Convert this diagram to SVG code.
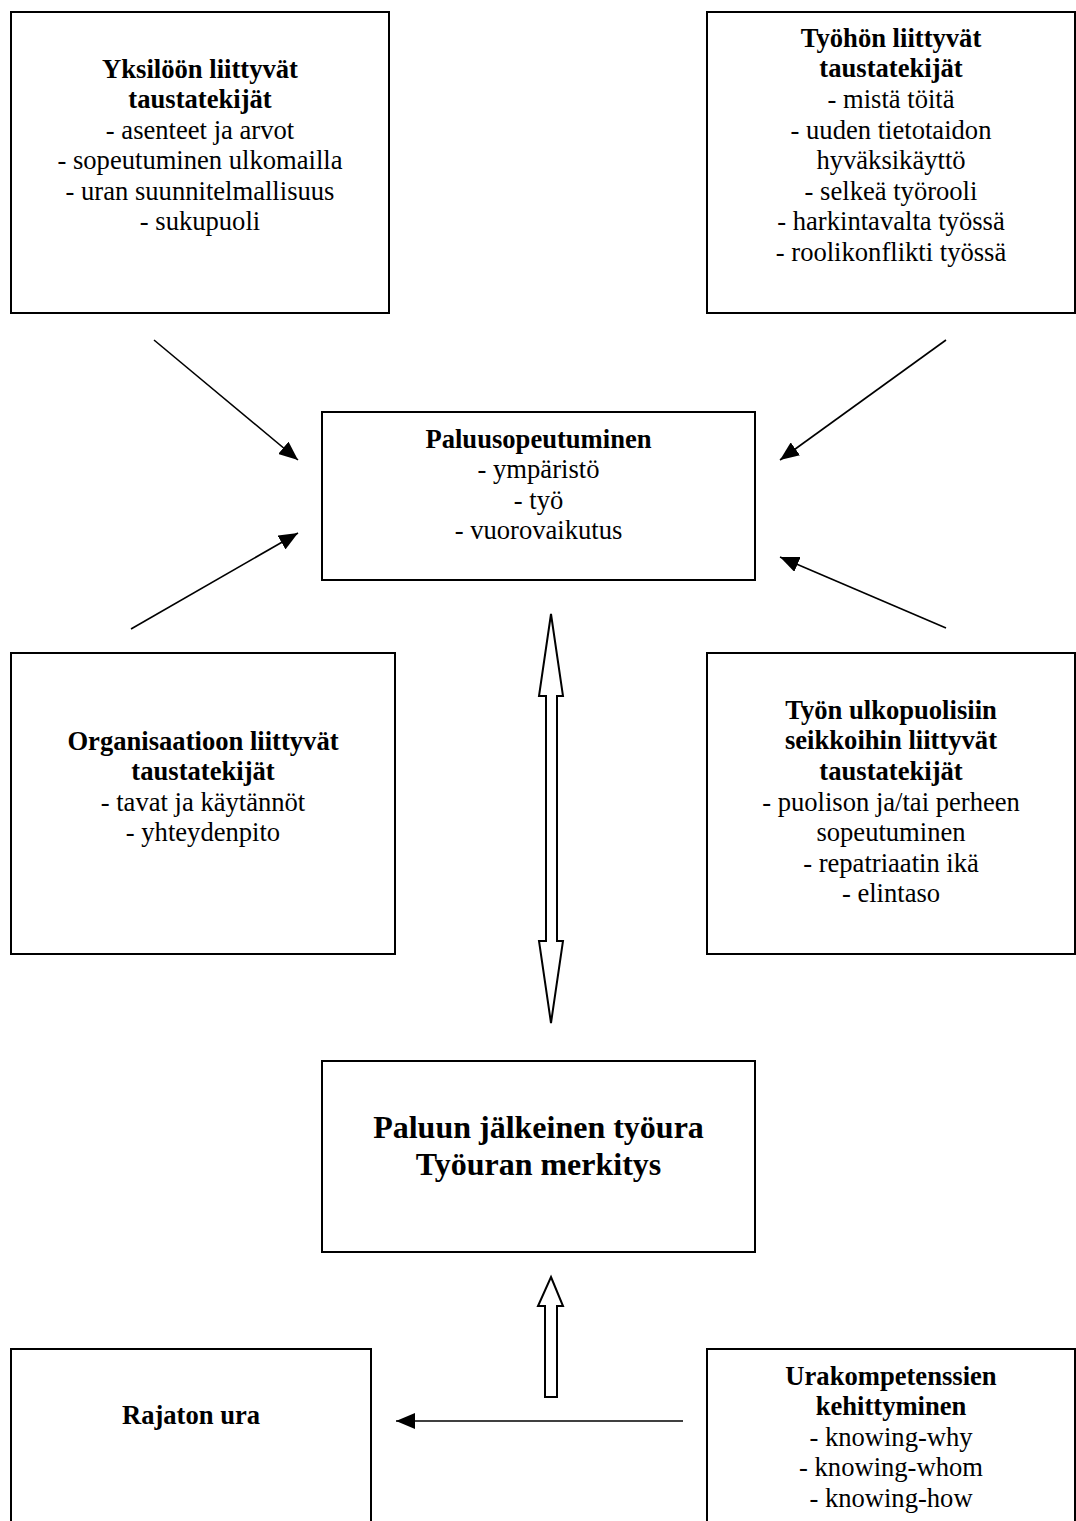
<svg xmlns="http://www.w3.org/2000/svg" width="1076" height="1521" viewBox="0 0 1076 1521">
<style>
.box{fill:#fff;stroke:#000;stroke-width:2}
text{font-family:"Liberation Serif","Times New Roman",serif;font-size:26.6px;text-anchor:middle;fill:#000}
.b{font-weight:bold}
.big{font-size:32px;font-weight:bold}
.ln{stroke:#000;stroke-width:1.6;fill:none}
.ha{fill:#fff;stroke:#000;stroke-width:2;stroke-linejoin:miter}
</style>
<defs>
<marker id="ah" markerUnits="userSpaceOnUse" markerWidth="20" markerHeight="16" refX="19" refY="8" orient="auto">
<path d="M0,0 L19,8 L0,16 z" fill="#000"/>
</marker>
</defs>
<rect width="1076" height="1521" fill="#fff"/>
<g id="n-yksilo">
<rect class="box" x="11" y="12" width="378" height="301"/>
<text x="200" y="78" class="b">Yksilöön liittyvät</text>
<text x="200" y="108" class="b">taustatekijät</text>
<text x="200" y="139">- asenteet ja arvot</text>
<text x="200" y="169">- sopeutuminen ulkomailla</text>
<text x="200" y="200">- uran suunnitelmallisuus</text>
<text x="200" y="230">- sukupuoli</text>
</g>
<g id="n-tyo">
<rect class="box" x="707" y="12" width="368" height="301"/>
<text x="891" y="47" class="b">Työhön liittyvät</text>
<text x="891" y="77" class="b">taustatekijät</text>
<text x="891" y="108">- mistä töitä</text>
<text x="891" y="139">- uuden tietotaidon</text>
<text x="891" y="169">hyväksikäyttö</text>
<text x="891" y="200">- selkeä työrooli</text>
<text x="891" y="230">- harkintavalta työssä</text>
<text x="891" y="261">- roolikonflikti työssä</text>
</g>
<g id="n-paluu">
<rect class="box" x="322" y="412" width="433" height="168"/>
<text x="538.5" y="448" class="b">Paluusopeutuminen</text>
<text x="538.5" y="478">- ympäristö</text>
<text x="538.5" y="509">- työ</text>
<text x="538.5" y="539">- vuorovaikutus</text>
</g>
<g id="n-org">
<rect class="box" x="11" y="653" width="384" height="301"/>
<text x="203" y="750" class="b">Organisaatioon liittyvät</text>
<text x="203" y="780" class="b">taustatekijät</text>
<text x="203" y="811">- tavat ja käytännöt</text>
<text x="203" y="841">- yhteydenpito</text>
</g>
<g id="n-ulko">
<rect class="box" x="707" y="653" width="368" height="301"/>
<text x="891" y="719" class="b">Työn ulkopuolisiin</text>
<text x="891" y="749" class="b">seikkoihin liittyvät</text>
<text x="891" y="780" class="b">taustatekijät</text>
<text x="891" y="811">- puolison ja/tai perheen</text>
<text x="891" y="841">sopeutuminen</text>
<text x="891" y="872">- repatriaatin ikä</text>
<text x="891" y="902">- elintaso</text>
</g>
<g id="n-tyoura">
<rect class="box" x="322" y="1061" width="433" height="191"/>
<text x="538.5" y="1138" class="big">Paluun jälkeinen työura</text>
<text x="538.5" y="1175" class="big">Työuran merkitys</text>
</g>
<g id="n-rajaton">
<rect class="box" x="11" y="1349" width="360" height="190"/>
<text x="191" y="1424" class="b">Rajaton ura</text>
</g>
<g id="n-urakomp">
<rect class="box" x="707" y="1349" width="368" height="190"/>
<text x="891" y="1385" class="b">Urakompetenssien</text>
<text x="891" y="1415" class="b">kehittyminen</text>
<text x="891" y="1446">- knowing-why</text>
<text x="891" y="1476">- knowing-whom</text>
<text x="891" y="1507">- knowing-how</text>
</g>
<g id="connectors">
<line class="ln" x1="154" y1="340" x2="298" y2="460" marker-end="url(#ah)"/>
<line class="ln" x1="131" y1="629" x2="298" y2="533" marker-end="url(#ah)"/>
<line class="ln" x1="946" y1="340" x2="780" y2="460" marker-end="url(#ah)"/>
<line class="ln" x1="946" y1="628" x2="780" y2="557" marker-end="url(#ah)"/>
<polygon class="ha" points="551,614 563,696 557,696 557,941 563,941 551,1023 539,941 546,941 546,696 539,696"/>
<polygon class="ha" points="551,1277 563,1306 557,1306 557,1397 545,1397 545,1306 538,1306"/>
<line class="ln" x1="683" y1="1421" x2="396" y2="1421" marker-end="url(#ah)"/>
</g>
</svg>
